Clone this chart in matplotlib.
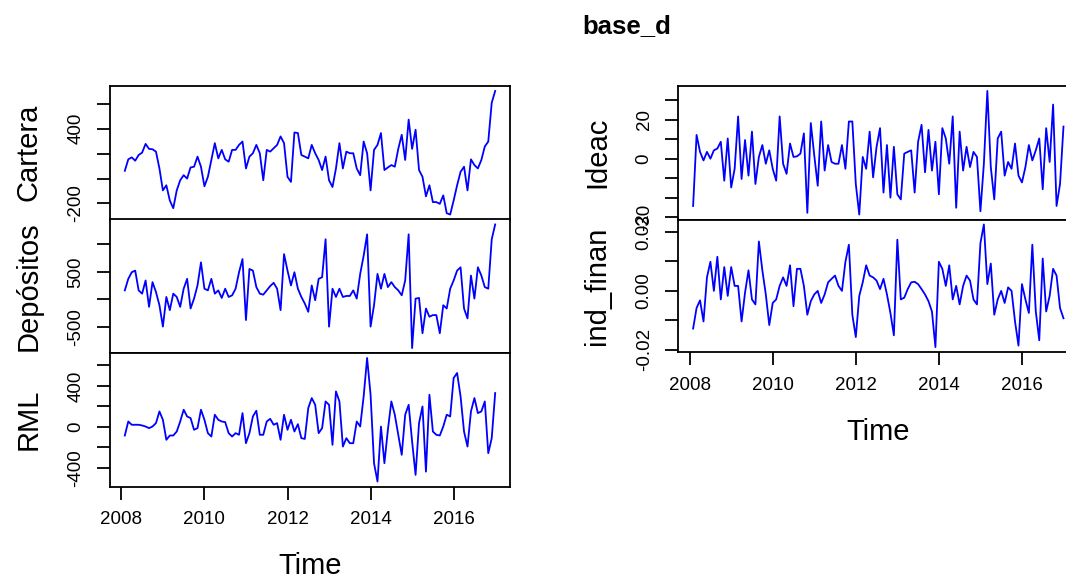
import numpy as np
import matplotlib
matplotlib.use("Agg")
import matplotlib.pyplot as plt

# monthly series, Feb 2008 - Jan 2017
cartera = [62, 154, 170, 143, 189, 208, 278, 238, 235, 216,
           81, -95, -54, -176, -238, -95, -14, 27, 0, 89,
           95, 176, 95, -62, 14, 149, 284, 162, 230, 154,
           135, 230, 230, 270, 297, 81, 176, 203, 270, 203,
           -14, 230, 216, 243, 270, 338, 284, 14, -27, 370,
           365, 189, 176, 162, 270, 203, 149, 68, 176, -14,
           -68, 81, 284, 81, 216, 203, 203, 81, 27, 297,
           203, -95, 230, 270, 365, 68, 89, 108, 95, 238,
           351, 149, 473, 238, 392, 68, 14, -143, -54, -189,
           -189, -203, -135, -278, -289, -176, -54, 54, 95, -95,
           154, 108, 81, 149, 257, 297, 608, 703]

depositos = [162, 372, 492, 522, 162, 102, 342, -138, 312, 132,
             -108, -498, 42, -198, 102, 42, -138, 192, 372, -168,
             12, 252, 672, 192, 162, 372, 102, 162, 24, 192,
             42, 72, 192, 492, 732, -378, 552, 522, 222, 102,
             84, 162, 240, 300, 192, -198, 822, 522, 252, 492,
             192, 42, -78, -228, 252, -18, 372, 402, 1092, -498,
             192, 42, 192, 42, 60, 60, 162, 12, 462, 792,
             1182, -498, -108, 462, 192, 462, 222, 312, 222, 162,
             72, 342, 1182, -888, 12, 24, -618, -168, -318, -288,
             -288, -618, -108, -168, 192, 342, 522, 582, -168, -348,
             432, 12, 582, 432, 222, 192, 1092, 1362]

rml = [-85, 52, 20, 20, 20, 13, 3, -13, 3, 36,
       150, 69, -127, -85, -85, -46, 52, 167, 101, 85,
       -29, -13, 167, 69, -62, -95, 118, 69, 52, 46,
       -62, -95, -62, -78, 134, -160, -62, 101, 157, -78,
       -78, 52, 78, 20, 36, -127, 118, -29, 69, -46,
       26, -111, -118, 183, 281, 215, -62, -13, 248, 215,
       -176, 346, 248, -193, -111, -160, -160, 52, 3, 297,
       673, 313, -356, -535, 3, -356, -29, 248, 118, -78,
       -274, 118, 215, -144, -470, 36, 199, -438, 313, -46,
       -78, -85, 3, 118, 101, 477, 526, 297, -46, -193,
       150, 281, 134, 150, 248, -258, -111, 330]

ideac = [-24.3, 12.2, 3.5, -0.9, 3.5, 0, 4.3, 5.2, 8.7, -11.3,
         10.4, -14.8, -5.2, 21.7, -10.4, 9.6, -8.7, 13.9, -13, 0.9,
         7, -2.6, 4.3, -5.2, -11.3, 21.7, -2.6, -7.8, 7.8, 0.9,
         1.2, 2.6, 13, -27.8, 18.3, 1.7, -13.9, 19.1, -6.1, 7,
         -1.7, -2.6, -2.6, 7, -5.2, 19.1, 19.1, -13, -28.7, 0.9,
         -5.2, 13.9, -9.6, 6.1, 15.7, -17.4, 7, -20, 6.1, -18.3,
         -20.9, 2.6, 3.5, 4.3, -17.4, 8.7, 17.4, -7, 14.8, -6.1,
         8.7, -18.3, 15.7, 10.4, -2.6, 21.7, -25.2, 13.9, -6.1, 6.1,
         -4.3, 3.5, 0.9, -27, -2.6, 34.8, -4.3, -20.9, 10.4, 13.9,
         -8.7, -1.7, -5.2, 7.8, -8.7, -12.2, -4.3, 7, -0.9, 4.3,
         10.4, -15.7, 15.7, -1.7, 27.8, -24.3, -13, 16.5]

ind_finan = [-0.0128, -0.0058, -0.0032, -0.0104, 0.0046, 0.0099, 0.0, 0.0116, -0.0029, 0.0081,
             -0.0017, 0.0081, 0.0017, 0.0017, -0.0104, -0.0006, 0.007, -0.0029, -0.0046, 0.0168,
             0.007, -0.0012, -0.0116, -0.0041, -0.0029, 0.0017, 0.0046, 0.0017, 0.0087, -0.0052,
             0.0075, 0.0075, 0.0017, -0.0081, -0.0035, -0.0012, 0.0, -0.0041, -0.0012, 0.0029,
             0.0041, 0.0052, 0.0017, 0.0, 0.0099, 0.0157, -0.0081, -0.0157, -0.0017, 0.0029,
             0.0087, 0.0052, 0.0046, 0.0035, 0.0006, 0.0041, -0.0012, -0.0075, -0.0151, 0.0174,
             -0.0029, -0.0023, 0.0006, 0.0029, 0.0031, 0.0023, 0.0006, -0.0012, -0.0035, -0.007,
             -0.0191, 0.0099, 0.0075, 0.0017, 0.0087, -0.0029, 0.0017, -0.0046, 0.0017, 0.0052,
             0.0035, -0.0029, -0.0046, 0.0162, 0.0226, 0.0023, 0.0093, -0.0081, -0.0029, 0.0,
             -0.0041, 0.0012, 0.0, -0.0104, -0.0186, 0.0023, -0.0029, -0.0075, 0.0157, -0.007,
             -0.0168, 0.011, -0.007, -0.0017, 0.0075, 0.0052, -0.0058, -0.0093]

# tick marks and which of them R kept a label for
year_ticks = [2008, 2010, 2012, 2014, 2016]
cartera_ticks = [-200, 0, 200, 400, 600]
cartera_labels = ["-200", "", "", "400", ""]
depositos_ticks = [-500, 0, 500, 1000]
depositos_labels = ["-500", "", "500", ""]
rml_ticks = [-400, -200, 0, 200, 400, 600]
rml_labels = ["-400", "", "0", "", "400", ""]
ideac_ticks = [-30, -20, -10, 0, 10, 20, 30]
ideac_labels = ["-30", "", "", "0", "", "20", ""]
finan_ticks = [-0.02, -0.01, 0.0, 0.01, 0.02]
finan_labels = ["-0.02", "", "0.00", "", "0.02"]

months = 2008 + np.arange(1, len(cartera) + 1) / 12.0

plt.rcParams["font.family"] = ["Liberation Sans", "DejaVu Sans"]

W, H = 1066, 578
fig = plt.figure(figsize=(W / 100, H / 100), dpi=100)

# panel boxes in pixels: (left, top, bottom)
panels = [
    ("Cartera", cartera, cartera_ticks, cartera_labels, (110, 86, 219.5), False),
    ("Depósitos", depositos, depositos_ticks, depositos_labels, (110, 219.5, 353), False),
    ("RML", rml, rml_ticks, rml_labels, (110, 353, 486.5), True),
    ("Ideac", ideac, ideac_ticks, ideac_labels, (678.3, 86, 219.5), False),
    ("ind_finan", ind_finan, finan_ticks, finan_labels, (678.3, 219.5, 352), True),
]

for name, values, ticks, labels, (left, top, bottom), show_x in panels:
    ax = fig.add_axes([left / W, 1 - bottom / H, 400 / W, (bottom - top) / H])
    ax.plot(months, values, color="blue", lw=1.3)
    ax.margins(x=0.04, y=0.04)

    for sp in ax.spines.values():
        sp.set_linewidth(1.3)
        sp.set_color("black")

    ax.set_yticks(ticks)
    ax.set_yticklabels(labels, rotation=90, va="center")
    ax.tick_params(axis="y", direction="out", length=9.4, width=1.3,
                   labelsize=13.5, pad=9)

    ax.set_ylabel(name, fontsize=21)
    ax.yaxis.set_label_coords(-0.1675, 0.5)

    if show_x:
        ax.set_xticks(year_ticks)
        ax.set_xticklabels([str(y) for y in year_ticks])
        ax.tick_params(axis="x", direction="out", length=9.4, width=1.3,
                       labelsize=13.5, pad=8.5)
        ax.set_xlabel("Time", fontsize=21)
        ax.xaxis.set_label_coords(0.5, -66 / (bottom - top))
    else:
        ax.tick_params(axis="x", bottom=False, labelbottom=False)

fig.text(626.7 / W, 1 - 33 / H, "base_d", fontsize=18.5, fontweight="bold",
         ha="center", va="baseline")

fig.savefig("out.png", dpi=100)
